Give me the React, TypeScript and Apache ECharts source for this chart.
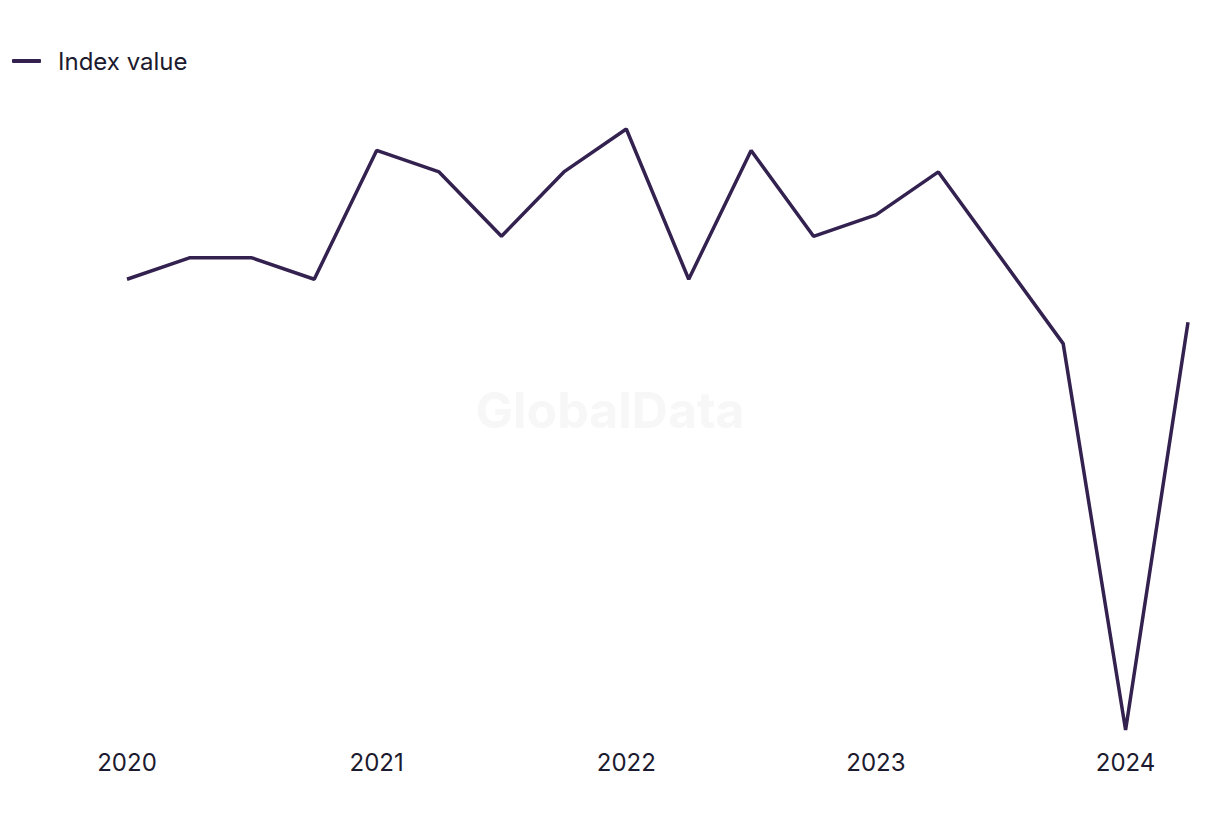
import React, { useEffect, useRef } from "react";
import * as echarts from "echarts";

const quarters = [
  "2020 Q1", "2020 Q2", "2020 Q3", "2020 Q4",
  "2021 Q1", "2021 Q2", "2021 Q3", "2021 Q4",
  "2022 Q1", "2022 Q2", "2022 Q3", "2022 Q4",
  "2023 Q1", "2023 Q2", "2023 Q3", "2023 Q4",
  "2024 Q1", "2024 Q2",
];
const indexValues = [3, 4, 4, 3, 9, 8, 5, 8, 10, 3, 9, 5, 6, 8, 4, 0, -18, 1];
const seriesName = "Index value";

export default function App() {
  const ref = useRef<HTMLDivElement>(null);
  useEffect(() => {
    document.body.style.margin = "0";
    if (!ref.current) return;
    const chart = echarts.init(ref.current, null, { renderer: "svg" });
    chart.setOption({
      animation: false,
      backgroundColor: "#ffffff",
      graphic: [
        {
          type: "text",
          left: "center",
          top: 385,
          style: {
            text: "GlobalData",
            fontFamily: "Inter",
            fontWeight: "bold",
            fontSize: 50,
            fill: "#f7f7f7",
          },
          z: -1,
        },
      ],
      legend: {
        left: 7,
        top: 44,
        icon: "roundRect",
        itemWidth: 29,
        itemHeight: 4,
        textStyle: {
          fontFamily: "Inter",
          fontSize: 24,
          color: "#1c1a2e",
          padding: [0, 0, 0, 12],
        },
        data: [seriesName],
      },
      grid: { left: 127, right: 32, top: 129, bottom: 90, containLabel: false },
      xAxis: {
        type: "category",
        data: quarters,
        boundaryGap: false,
        axisLine: { show: false },
        axisTick: { show: false },
        splitLine: { show: false },
        axisLabel: {
          interval: (i: number) => i % 4 === 0,
          formatter: (v: string) => v.slice(0, 4),
          fontFamily: "Inter",
          fontSize: 24,
          color: "#1c1a2e",
          margin: 20,
        },
      },
      yAxis: {
        type: "value",
        min: -18,
        max: 10,
        show: false,
        splitLine: { show: false },
      },
      series: [
        {
          name: seriesName,
          type: "line",
          data: indexValues,
          symbol: "none",
          lineStyle: { color: "#33214f", width: 3.5 },
          itemStyle: { color: "#33214f" },
        },
      ],
    });
    return () => chart.dispose();
  }, []);
  return <div ref={ref} style={{ width: 1220, height: 820 }} />;
}
